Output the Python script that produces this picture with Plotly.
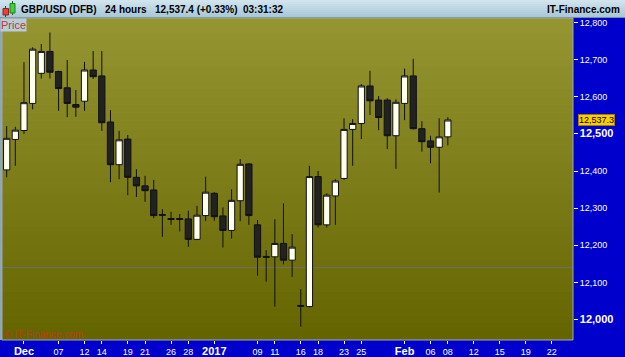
import plotly.graph_objects as go

# ---- data (trading-day index, OHLC) ----
idx = list(range(-2, 50))
opens = [12403, 12485, 12509, 12582, 12663, 12722, 12668, 12624, 12579, 12588,
         12672, 12656, 12532, 12417, 12486, 12383, 12360, 12349, 12283, 12272,
         12272, 12271, 12216, 12280, 12340, 12279, 12240, 12320, 12419, 12255,
         12170, 12169, 12205, 12160, 12038, 12035, 12385, 12255, 12333, 12380,
         12512, 12528, 12629, 12591, 12591, 12495, 12582, 12656, 12514, 12481,
         12464, 12492]
highs = [12521, 12519, 12693, 12733, 12742, 12773, 12670, 12699, 12618, 12694,
         12723, 12723, 12564, 12508, 12497, 12405, 12387, 12376, 12297, 12290,
         12284, 12293, 12306, 12385, 12343, 12302, 12351, 12432, 12421, 12268,
         12187, 12270, 12313, 12230, 12082, 12414, 12400, 12340, 12378, 12542,
         12540, 12634, 12670, 12602, 12596, 12593, 12676, 12702, 12534, 12495,
         12542, 12545]
lows = [12383, 12414, 12500, 12566, 12649, 12649, 12562, 12545, 12546, 12562,
        12648, 12508, 12370, 12378, 12335, 12330, 12317, 12273, 12223, 12255,
        12237, 12196, 12214, 12265, 12266, 12194, 12218, 12265, 12255, 12118,
        12102, 12035, 12149, 12115, 11981, 12033, 12248, 12248, 12255, 12376,
        12414, 12486, 12551, 12510, 12459, 12406, 12537, 12512, 12452, 12421,
        12342, 12469]
closes = [12488, 12510, 12584, 12728, 12722, 12666, 12622, 12582, 12572, 12672,
          12654, 12530, 12417, 12484, 12383, 12360, 12347, 12280, 12281, 12270,
          12270, 12216, 12281, 12343, 12277, 12240, 12321, 12418, 12280, 12168,
          12168, 12205, 12160, 12195, 12036, 12385, 12255, 12335, 12373, 12512,
          12528, 12629, 12589, 12544, 12495, 12585, 12656, 12514, 12479, 12464,
          12492, 12537.4]

tick_idx = [0, 4, 7, 9, 12, 14, 17, 19, 22, 27, 29, 32, 34, 37, 39, 44, 47, 49, 52, 55, 58, 61]
tick_lbl = ["Dec", "07", "12", "14", "19", "21", "26", "28", "2017", "09", "11", "16",
            "18", "23", "25", "Feb", "06", "08", "12", "15", "19", "22"]
bold_x = {"Dec", "2017", "Feb"}

y_vals = [12000, 12100, 12200, 12300, 12400, 12500, 12600, 12700, 12800]
bold_y = {12000, 12500}

last_price = 12537.3
ref_line = 12140

# ---- layout helpers ----
W, H = 625, 357
L, R, T, B = 2, 52, 18, 17
PW, PH = W - L - R, H - T - B


def xp(px):
    return (px - L) / PW


def yp(py):
    return (H - B - py) / PH


def bt(s, size=11):
    return f'<span style="font-size:{size}px"><b>{s}</b></span>'


fig = go.Figure()
fig.add_trace(go.Candlestick(
    x=idx, open=opens, high=highs, low=lows, close=closes,
    increasing=dict(line=dict(color="#111111", width=1), fillcolor="#fffff0"),
    decreasing=dict(line=dict(color="#111111", width=1), fillcolor="#222222"),
    whiskerwidth=0, hoverinfo="skip", showlegend=False,
))

shapes = []
# plot-area gradient
n = 40
top = (149, 149, 49)
bot = (100, 100, 0)
for i in range(n):
    f = i / (n - 1)
    c = tuple(round(top[k] + (bot[k] - top[k]) * f) for k in range(3))
    shapes.append(dict(type="rect", xref="paper", yref="paper", x0=0, x1=1,
                       y0=1 - (i + 1) / n, y1=1 - i / n + 0.001,
                       fillcolor=f"rgb{c}", line=dict(width=0), layer="below"))
# header gradient
nh = 9
htop = (208, 228, 238)
hbot = (168, 198, 214)
for i in range(nh):
    f = i / (nh - 1)
    c = tuple(round(htop[k] + (hbot[k] - htop[k]) * f) for k in range(3))
    shapes.append(dict(type="rect", xref="paper", yref="paper", x0=xp(0), x1=xp(W),
                       y0=yp(2 * (i + 1)), y1=yp(2 * i),
                       fillcolor=f"rgb{c}", line=dict(width=0), layer="above"))
shapes.append(dict(type="line", xref="paper", yref="paper", x0=xp(0), x1=xp(W),
                   y0=yp(17.5), y1=yp(17.5), line=dict(color="#7890a0", width=1)))
# left border strip
shapes.append(dict(type="rect", xref="paper", yref="paper", x0=xp(0), x1=xp(2),
                   y0=0, y1=1, fillcolor="#8ea6b6", line=dict(width=0)))
# plot border
shapes.append(dict(type="rect", xref="paper", yref="paper", x0=0, x1=1, y0=0, y1=1,
                   line=dict(color="#9eaab2", width=1), fillcolor="rgba(0,0,0,0)"))
# reference line
shapes.append(dict(type="line", xref="paper", yref="y", x0=0, x1=1,
                   y0=ref_line, y1=ref_line, line=dict(color="#6e6e6e", width=1), layer="below"))
# header icon (small red & green candles)
shapes += [
    dict(type="line", xref="paper", yref="paper", x0=xp(5.5), x1=xp(5.5), y0=yp(17), y1=yp(6),
         line=dict(color="#802020", width=1)),
    dict(type="rect", xref="paper", yref="paper", x0=xp(3), x1=xp(8.5), y0=yp(15), y1=yp(8.5),
         fillcolor="#e84040", line=dict(color="#902020", width=1)),
    dict(type="line", xref="paper", yref="paper", x0=xp(12.5), x1=xp(12.5), y0=yp(15), y1=yp(1),
         line=dict(color="#206020", width=1)),
    dict(type="rect", xref="paper", yref="paper", x0=xp(10), x1=xp(15), y0=yp(13), y1=yp(3.5),
         fillcolor="#40d040", line=dict(color="#208020", width=1)),
]

hfont = dict(family="Arial, Liberation Sans", size=10, color="#000000")
annotations = [
    dict(xref="paper", yref="paper", x=xp(19), y=yp(9), xanchor="left", yanchor="middle",
         text="<b>GBP/USD (DFB)</b>", showarrow=False, font=hfont),
    dict(xref="paper", yref="paper", x=xp(103), y=yp(9), xanchor="left", yanchor="middle",
         text="<b>24 hours</b>", showarrow=False, font=hfont),
    dict(xref="paper", yref="paper", x=xp(153), y=yp(9), xanchor="left", yanchor="middle",
         text="<b>12,537.4 (+0.33%)</b>", showarrow=False, font=hfont),
    dict(xref="paper", yref="paper", x=xp(241), y=yp(9), xanchor="left", yanchor="middle",
         text="<b>03:31:32</b>", showarrow=False, font=hfont),
    dict(xref="paper", yref="paper", x=xp(622), y=yp(9), xanchor="right", yanchor="middle",
         text="<b>IT-Finance.com</b>", showarrow=False, font=hfont),
    dict(xref="paper", yref="paper", x=xp(0), y=1, xanchor="left", yanchor="top",
         text="Price", showarrow=False, bgcolor="#b4cedc", borderpad=0,
         font=dict(family="Arial, Liberation Sans", size=11, color="#c83232")),
    dict(xref="paper", yref="paper", x=xp(2), y=yp(334), xanchor="left", yanchor="middle",
         text="© IT-Finance.com", showarrow=False,
         font=dict(family="Arial, Liberation Sans", size=10, color="#b8401c")),
    dict(xref="paper", yref="y", x=xp(578), y=last_price, xanchor="left", yanchor="middle",
         text=f"{last_price:,.1f}", showarrow=False, bgcolor="#ffcc00",
         bordercolor="#a08000", borderwidth=1, borderpad=0,
         font=dict(family="Arial, Liberation Sans", size=9, color="#000000")),
]

fig.update_layout(
    width=W, height=H,
    margin=dict(l=L, r=R, t=T, b=B, pad=0),
    paper_bgcolor="#0000cc",
    plot_bgcolor="#7d7d1a",
    boxgap=0.15, boxgroupgap=0.15,
    shapes=shapes,
    annotations=annotations,
    showlegend=False,
    xaxis=dict(
        range=[-2.54, 63.47], rangeslider=dict(visible=False),
        tickmode="array", tickvals=tick_idx,
        ticktext=[bt(t) if t in bold_x else t for t in tick_lbl],
        ticks="outside", ticklen=3, tickcolor="#ffffff", tickwidth=1,
        tickfont=dict(family="Arial, Liberation Sans", size=9, color="#ffffff"),
        showgrid=False, zeroline=False, showline=False, automargin=False, fixedrange=True,
    ),
    yaxis=dict(
        side="right", range=[11945, 12812],
        tickmode="array", tickvals=y_vals,
        ticktext=[bt(f"{v:,}") if v in bold_y else f"{v:,}" for v in y_vals],
        ticks="outside", ticklen=4, tickcolor="#ffffff", tickwidth=1,
        tickfont=dict(family="Arial, Liberation Sans", size=9, color="#ffffff"),
        showgrid=False, zeroline=False, showline=False, automargin=False, fixedrange=True,
    ),
)

fig.write_html("out.html")
